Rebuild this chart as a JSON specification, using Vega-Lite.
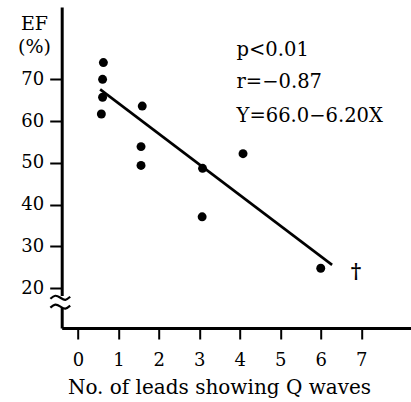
{
  "$schema": "https://vega.github.io/schema/vega-lite/v6.json",
  "autosize": "none",
  "width": 349.3,
  "height": 321,
  "padding": {"left": 61.7, "top": 7, "right": 0, "bottom": 74},
  "background": "white",
  "config": {
    "view": {"stroke": null},
    "font": "DejaVu Serif",
    "axis": {"grid": false, "domainColor": "black", "tickColor": "black", "labelColor": "black", "titleColor": "black", "labelFont": "DejaVu Serif", "titleFont": "DejaVu Serif", "labelFontSize": 18, "titleFontSize": 20, "titleFontWeight": "normal", "zindex": 0}
  },
  "datasets": {
    "patients": [
      {"leads": 0.63, "ef": 74.0},
      {"leads": 0.61, "ef": 70.0},
      {"leads": 0.61, "ef": 65.7},
      {"leads": 0.58, "ef": 61.7},
      {"leads": 1.59, "ef": 63.6},
      {"leads": 1.56, "ef": 53.9},
      {"leads": 1.56, "ef": 49.4},
      {"leads": 3.08, "ef": 48.7},
      {"leads": 3.07, "ef": 37.1},
      {"leads": 4.08, "ef": 52.2},
      {"leads": 6.0, "ef": 24.8}
    ],
    "fit": [
      {"leads": 0.55, "ef": 67.6},
      {"leads": 6.28, "ef": 25.6}
    ],
    "stats": [
      {"leads": 3.92, "ef": 75.65, "label": "p<0.01"},
      {"leads": 3.92, "ef": 67.9, "label": "r=−0.87"},
      {"leads": 3.92, "ef": 59.85, "label": "Y=66.0−6.20X"}
    ],
    "dagger": [
      {"leads": 6.87, "ef": 24.0, "label": "†"}
    ],
    "gap": [
      {"x1": -0.5, "x2": -0.3, "y1": 15.29, "y2": 18.16}
    ],
    "breaks": [
      {"g": "a", "leads": -0.68, "ef": 17.49},
      {"g": "a", "leads": -0.56, "ef": 18.21},
      {"g": "a", "leads": -0.43, "ef": 17.73},
      {"g": "a", "leads": -0.31, "ef": 17.25},
      {"g": "a", "leads": -0.19, "ef": 17.97},
      {"g": "b", "leads": -0.68, "ef": 15.36},
      {"g": "b", "leads": -0.56, "ef": 16.08},
      {"g": "b", "leads": -0.43, "ef": 15.6},
      {"g": "b", "leads": -0.31, "ef": 15.12},
      {"g": "b", "leads": -0.19, "ef": 15.84}
    ]
  },
  "layer": [
    {
      "data": {"name": "patients"},
      "mark": {"type": "point", "filled": true, "color": "black", "opacity": 1, "size": 80},
      "encoding": {
        "x": {"field": "leads", "type": "quantitative", "scale": {"domain": [-0.4, 8.23], "nice": false, "zero": false},
          "axis": {"values": [0, 1, 2, 3, 4, 5, 6, 7], "domainWidth": 3, "tickWidth": 2, "tickSize": 11, "labelBaseline": "alphabetic", "labelPadding": 26, "title": "No. of leads showing Q waves", "titleX": 157.3, "titleY": 65.3, "titleAnchor": null, "titleAlign": "center", "titleBaseline": "alphabetic"}},
        "y": {"field": "ef", "type": "quantitative", "scale": {"domain": [10.5, 87.3], "nice": false, "zero": false},
          "axis": {"values": [20, 30, 40, 50, 60, 70], "domainWidth": 3, "tickWidth": 2, "tickSize": 12, "labelPadding": 6, "labelBaseline": "middle", "title": ["EF", "(%)"], "titleAngle": 0, "titleX": -27.7, "titleY": 22, "titleAlign": "center", "titleBaseline": "alphabetic", "titleLineHeight": 23.5, "titleFontSize": 19}}
      }
    },
    {
      "data": {"name": "fit"},
      "mark": {"type": "line", "color": "black", "strokeWidth": 2.6},
      "encoding": {
        "x": {"field": "leads", "type": "quantitative"},
        "y": {"field": "ef", "type": "quantitative"}
      }
    },
    {
      "data": {"name": "stats"},
      "mark": {"type": "text", "align": "left", "baseline": "alphabetic", "fontSize": 19.5, "font": "DejaVu Serif", "fill": "black"},
      "encoding": {
        "x": {"field": "leads", "type": "quantitative"},
        "y": {"field": "ef", "type": "quantitative"},
        "text": {"field": "label"}
      }
    },
    {
      "data": {"name": "dagger"},
      "mark": {"type": "text", "align": "center", "baseline": "middle", "fontSize": 20, "font": "DejaVu Serif", "fill": "black", "fontWeight": "bold"},
      "encoding": {
        "x": {"field": "leads", "type": "quantitative"},
        "y": {"field": "ef", "type": "quantitative"},
        "text": {"field": "label"}
      }
    },
    {
      "data": {"name": "gap"},
      "mark": {"type": "rect", "color": "white"},
      "encoding": {
        "x": {"field": "x1", "type": "quantitative"},
        "x2": {"field": "x2"},
        "y": {"field": "y1", "type": "quantitative"},
        "y2": {"field": "y2"}
      }
    },
    {
      "data": {"name": "breaks"},
      "mark": {"type": "line", "color": "black", "strokeWidth": 2.2, "interpolate": "natural"},
      "encoding": {
        "x": {"field": "leads", "type": "quantitative"},
        "y": {"field": "ef", "type": "quantitative"},
        "detail": {"field": "g"}
      }
    }
  ]
}
